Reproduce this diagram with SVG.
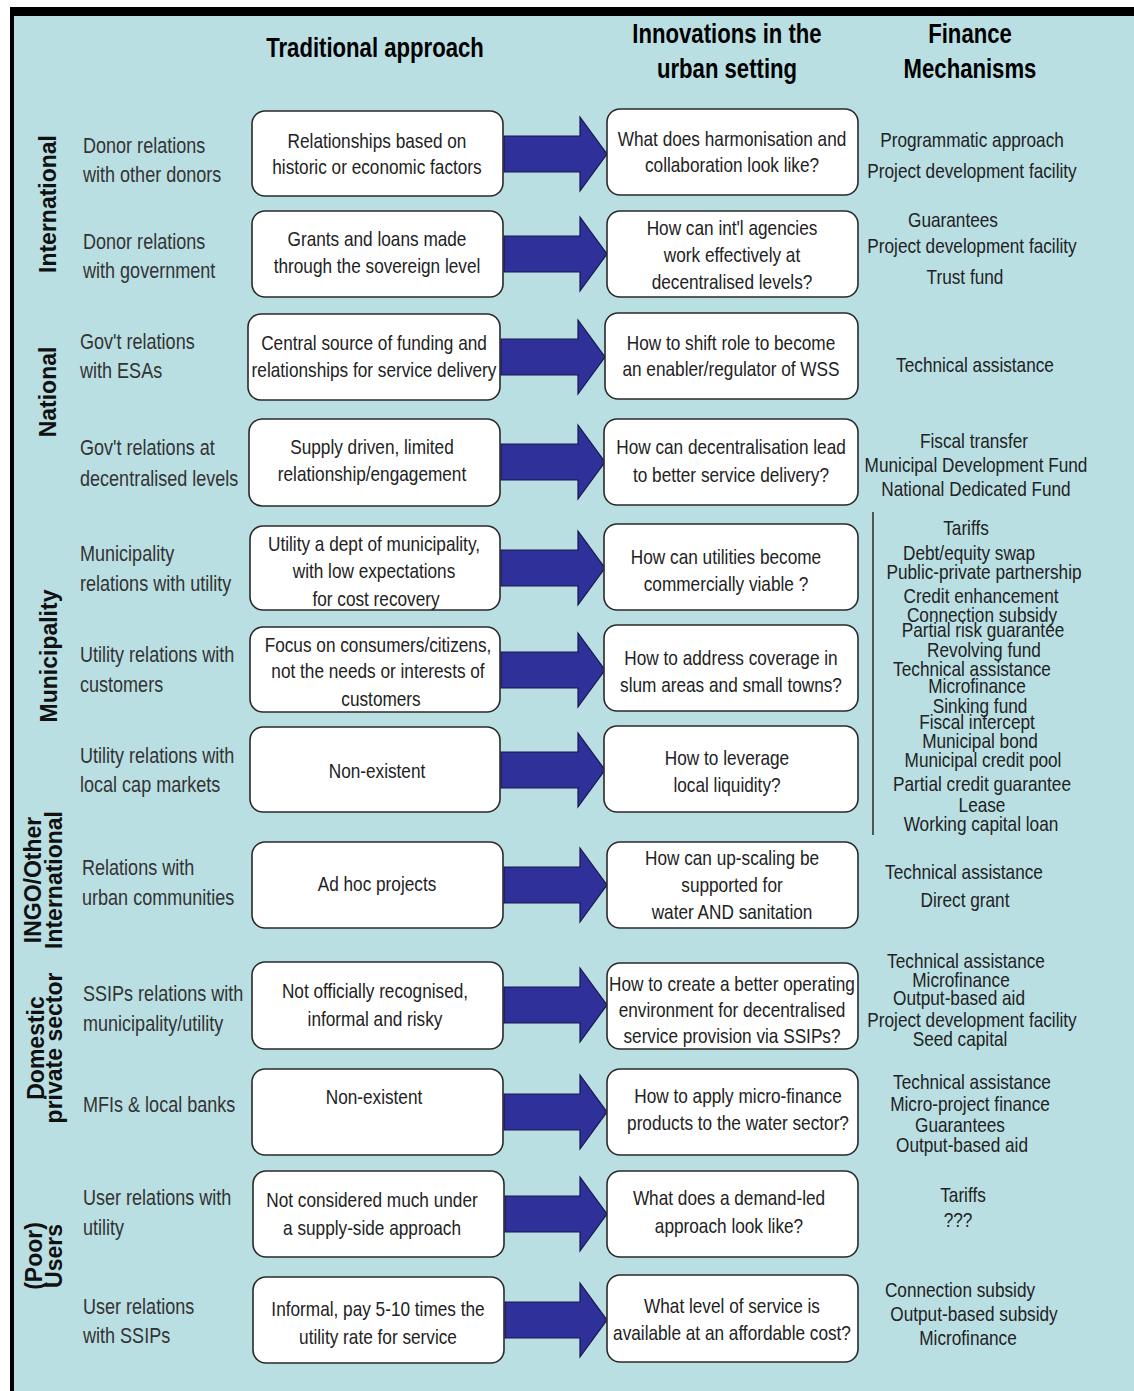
<svg xmlns="http://www.w3.org/2000/svg" width="1134" height="1391" viewBox="0 0 1134 1391">
<defs>
<style>
.bg{fill:#badfe3}
.box{fill:#ffffff;stroke:#2a2a2a;stroke-width:1.6}
.arr{fill:#30309a;stroke:#16164c;stroke-width:1.2}
.t{font-family:"Liberation Sans",Arial,sans-serif;font-size:21px;fill:#222;text-anchor:middle}
.lbl{font-family:"Liberation Sans",Arial,sans-serif;font-size:22px;fill:#333;text-anchor:start}
.hdr{font-family:"Liberation Sans",Arial,sans-serif;font-weight:bold;font-size:27px;fill:#000;text-anchor:middle}
.cat{font-family:"Liberation Sans",Arial,sans-serif;font-weight:bold;font-size:23px;fill:#111;text-anchor:middle}
</style>
</defs>
<rect x="0" y="0" width="1134" height="1391" fill="#ffffff"/>
<rect class="bg" x="10" y="7" width="1124" height="1384"/>
<rect x="10" y="7" width="1124" height="9" fill="#000"/>
<rect x="10" y="7" width="4" height="1384" fill="#000"/>

<g id="headers">
<text class="hdr" transform="translate(375,57) scale(.82,1)">Traditional approach</text>
<text class="hdr" transform="translate(727,43) scale(.82,1)">Innovations in the</text>
<text class="hdr" transform="translate(727,78) scale(.82,1)">urban setting</text>
<text class="hdr" transform="translate(970,43) scale(.82,1)">Finance</text>
<text class="hdr" transform="translate(970,78) scale(.82,1)">Mechanisms</text>
</g>

<g id="categories">
<text class="cat" transform="translate(56,204) rotate(-90)">International</text>
<text class="cat" transform="translate(56,392) rotate(-90)">National</text>
<text class="cat" transform="translate(57,656) rotate(-90)">Municipality</text>
<text class="cat" transform="translate(41,880) rotate(-90)">INGO/Other</text>
<text class="cat" transform="translate(62,880) rotate(-90)">International</text>
<text class="cat" transform="translate(44,1048) rotate(-90)">Domestic</text>
<text class="cat" transform="translate(62,1048) rotate(-90)">private sector</text>
<text class="cat" transform="translate(42,1256) rotate(-90)">(Poor)</text>
<text class="cat" transform="translate(62,1256) rotate(-90)">Users</text>
</g>

<g id="connectors">
<path class="arr" d="M504,136 H580 V117 L607,154 L580,191 V172 H504 Z"/>
<path class="arr" d="M504,236 H580 V217 L607,254 L580,291 V272 H504 Z"/>
<path class="arr" d="M501,339 H578 V320 L605,357 L578,394 V375 H501 Z"/>
<path class="arr" d="M501,444 H578 V425 L605,462 L578,499 V480 H501 Z"/>
<path class="arr" d="M501,550 H578 V531 L605,568 L578,605 V586 H501 Z"/>
<path class="arr" d="M501,652 H578 V633 L605,670 L578,707 V688 H501 Z"/>
<path class="arr" d="M501,752 H578 V733 L605,770 L578,807 V788 H501 Z"/>
<path class="arr" d="M504,867 H580 V848 L607,885 L580,922 V903 H504 Z"/>
<path class="arr" d="M504,987 H580 V968 L607,1005 L580,1042 V1023 H504 Z"/>
<path class="arr" d="M504,1094 H580 V1075 L607,1112 L580,1149 V1130 H504 Z"/>
<path class="arr" d="M505,1196 H580 V1177 L607,1214 L580,1251 V1232 H505 Z"/>
<path class="arr" d="M505,1302 H580 V1283 L607,1320 L580,1357 V1338 H505 Z"/>
<line x1="873" y1="512" x2="873" y2="835" stroke="#333" stroke-width="1.6"/>
</g>

<g id="row1">
<text class="lbl" transform="translate(83,153) scale(.82,1)">Donor relations</text>
<text class="lbl" transform="translate(83,182) scale(.82,1)">with other donors</text>
<rect class="box" x="252" y="111" width="251" height="85" rx="13"/>
<text class="t" transform="translate(377,148) scale(.82,1)">Relationships based on</text>
<text class="t" transform="translate(377,174) scale(.82,1)">historic or economic factors</text>
<rect class="box" x="607" y="109" width="251" height="86" rx="13"/>
<text class="t" transform="translate(732,146) scale(.82,1)">What does harmonisation and</text>
<text class="t" transform="translate(732,172) scale(.82,1)">collaboration look like?</text>
<text class="t" transform="translate(972,147) scale(.82,1)">Programmatic approach</text>
<text class="t" transform="translate(972,178) scale(.82,1)">Project development facility</text>
</g>

<g id="row2">
<text class="lbl" transform="translate(83,249) scale(.82,1)">Donor relations</text>
<text class="lbl" transform="translate(83,278) scale(.82,1)">with government</text>
<rect class="box" x="252" y="211" width="251" height="86" rx="13"/>
<text class="t" transform="translate(377,246) scale(.82,1)">Grants and loans made</text>
<text class="t" transform="translate(377,273) scale(.82,1)">through the sovereign level</text>
<rect class="box" x="607" y="211" width="251" height="86" rx="13"/>
<text class="t" transform="translate(732,235) scale(.82,1)">How can int'l agencies</text>
<text class="t" transform="translate(732,262) scale(.82,1)">work effectively at</text>
<text class="t" transform="translate(732,289) scale(.82,1)">decentralised levels?</text>
<text class="t" transform="translate(953,227) scale(.82,1)">Guarantees</text>
<text class="t" transform="translate(972,253) scale(.82,1)">Project development facility</text>
<text class="t" transform="translate(965,284) scale(.82,1)">Trust fund</text>
</g>

<g id="row3">
<text class="lbl" transform="translate(80,349) scale(.82,1)">Gov't relations</text>
<text class="lbl" transform="translate(80,378) scale(.82,1)">with ESAs</text>
<rect class="box" x="248" y="314" width="252" height="86" rx="13"/>
<text class="t" transform="translate(374,350) scale(.82,1)">Central source of funding and</text>
<text class="t" transform="translate(374,377) scale(.82,1)">relationships for service delivery</text>
<rect class="box" x="605" y="313" width="253" height="86" rx="13"/>
<text class="t" transform="translate(731,350) scale(.82,1)">How to shift role to become</text>
<text class="t" transform="translate(731,376) scale(.82,1)">an enabler/regulator of WSS</text>
<text class="t" transform="translate(975,372) scale(.82,1)">Technical assistance</text>
</g>

<g id="row4">
<text class="lbl" transform="translate(80,455) scale(.82,1)">Gov't relations at</text>
<text class="lbl" transform="translate(80,486) scale(.82,1)">decentralised levels</text>
<rect class="box" x="249" y="419" width="251" height="87" rx="13"/>
<text class="t" transform="translate(372,454) scale(.82,1)">Supply driven, limited</text>
<text class="t" transform="translate(372,481) scale(.82,1)">relationship/engagement</text>
<rect class="box" x="604" y="419" width="254" height="86" rx="13"/>
<text class="t" transform="translate(731,454) scale(.82,1)">How can decentralisation lead</text>
<text class="t" transform="translate(731,482) scale(.82,1)">to better service delivery?</text>
<text class="t" transform="translate(974,448) scale(.82,1)">Fiscal transfer</text>
<text class="t" transform="translate(976,472) scale(.82,1)">Municipal Development Fund</text>
<text class="t" transform="translate(976,496) scale(.82,1)">National Dedicated Fund</text>
</g>

<g id="row5">
<text class="lbl" transform="translate(80,561) scale(.82,1)">Municipality</text>
<text class="lbl" transform="translate(80,591) scale(.82,1)">relations with utility</text>
<rect class="box" x="250" y="526" width="250" height="84" rx="13"/>
<text class="t" transform="translate(374,551) scale(.82,1)">Utility a dept of municipality,</text>
<text class="t" transform="translate(374,578) scale(.82,1)">with low expectations</text>
<text class="t" transform="translate(376,606) scale(.82,1)">for cost recovery</text>
<rect class="box" x="604" y="524" width="254" height="86" rx="13"/>
<text class="t" transform="translate(726,564) scale(.82,1)">How can utilities become</text>
<text class="t" transform="translate(726,591) scale(.82,1)">commercially viable ?</text>
</g>

<g id="row6">
<text class="lbl" transform="translate(80,662) scale(.82,1)">Utility relations with</text>
<text class="lbl" transform="translate(80,692) scale(.82,1)">customers</text>
<rect class="box" x="250" y="627" width="250" height="85" rx="13"/>
<text class="t" transform="translate(378,652) scale(.82,1)">Focus on consumers/citizens,</text>
<text class="t" transform="translate(378,678) scale(.82,1)">not the needs or interests of</text>
<text class="t" transform="translate(381,706) scale(.82,1)">customers</text>
<rect class="box" x="604" y="625" width="254" height="86" rx="13"/>
<text class="t" transform="translate(731,665) scale(.82,1)">How to address coverage in</text>
<text class="t" transform="translate(731,692) scale(.82,1)">slum areas and small towns?</text>
</g>

<g id="row7">
<text class="lbl" transform="translate(80,763) scale(.82,1)">Utility relations with</text>
<text class="lbl" transform="translate(80,792) scale(.82,1)">local cap markets</text>
<rect class="box" x="250" y="727" width="250" height="85" rx="13"/>
<text class="t" transform="translate(377,778) scale(.82,1)">Non-existent</text>
<rect class="box" x="604" y="726" width="254" height="86" rx="13"/>
<text class="t" transform="translate(727,765) scale(.82,1)">How to leverage</text>
<text class="t" transform="translate(727,792) scale(.82,1)">local liquidity?</text>
</g>

<g id="municipality-finance">
<text class="t" transform="translate(966,535) scale(.82,1)">Tariffs</text>
<text class="t" transform="translate(969,560) scale(.82,1)">Debt/equity swap</text>
<text class="t" transform="translate(984,579) scale(.82,1)">Public-private partnership</text>
<text class="t" transform="translate(981,603) scale(.82,1)">Credit enhancement</text>
<text class="t" transform="translate(982,622) scale(.82,1)">Connection subsidy</text>
<text class="t" transform="translate(983,637) scale(.82,1)">Partial risk guarantee</text>
<text class="t" transform="translate(984,657) scale(.82,1)">Revolving fund</text>
<text class="t" transform="translate(972,676) scale(.82,1)">Technical assistance</text>
<text class="t" transform="translate(977,693) scale(.82,1)">Microfinance</text>
<text class="t" transform="translate(980,713) scale(.82,1)">Sinking fund</text>
<text class="t" transform="translate(977,729) scale(.82,1)">Fiscal intercept</text>
<text class="t" transform="translate(980,748) scale(.82,1)">Municipal bond</text>
<text class="t" transform="translate(983,767) scale(.82,1)">Municipal credit pool</text>
<text class="t" transform="translate(982,791) scale(.82,1)">Partial credit guarantee</text>
<text class="t" transform="translate(982,812) scale(.82,1)">Lease</text>
<text class="t" transform="translate(981,831) scale(.82,1)">Working capital loan</text>
</g>

<g id="row8">
<text class="lbl" transform="translate(82,875) scale(.82,1)">Relations with</text>
<text class="lbl" transform="translate(82,905) scale(.82,1)">urban communities</text>
<rect class="box" x="252" y="842" width="251" height="86" rx="13"/>
<text class="t" transform="translate(377,891) scale(.82,1)">Ad hoc projects</text>
<rect class="box" x="607" y="842" width="251" height="86" rx="13"/>
<text class="t" transform="translate(732,865) scale(.82,1)">How can up-scaling be</text>
<text class="t" transform="translate(732,892) scale(.82,1)">supported for</text>
<text class="t" transform="translate(732,919) scale(.82,1)">water AND sanitation</text>
<text class="t" transform="translate(964,879) scale(.82,1)">Technical assistance</text>
<text class="t" transform="translate(965,907) scale(.82,1)">Direct grant</text>
</g>

<g id="row9">
<text class="lbl" transform="translate(83,1001) scale(.82,1)">SSIPs relations with</text>
<text class="lbl" transform="translate(83,1031) scale(.82,1)">municipality/utility</text>
<rect class="box" x="252" y="962" width="251" height="87" rx="13"/>
<text class="t" transform="translate(375,998) scale(.82,1)">Not officially recognised,</text>
<text class="t" transform="translate(375,1026) scale(.82,1)">informal and risky</text>
<rect class="box" x="607" y="963" width="251" height="86" rx="13"/>
<text class="t" transform="translate(732,991) scale(.82,1)">How to create a better operating</text>
<text class="t" transform="translate(732,1017) scale(.82,1)">environment for decentralised</text>
<text class="t" transform="translate(732,1043) scale(.82,1)">service provision via SSIPs?</text>
<text class="t" transform="translate(966,968) scale(.82,1)">Technical assistance</text>
<text class="t" transform="translate(961,987) scale(.82,1)">Microfinance</text>
<text class="t" transform="translate(959,1005) scale(.82,1)">Output-based aid</text>
<text class="t" transform="translate(972,1027) scale(.82,1)">Project development facility</text>
<text class="t" transform="translate(960,1046) scale(.82,1)">Seed capital</text>
</g>

<g id="row10">
<text class="lbl" transform="translate(83,1112) scale(.82,1)">MFIs &amp; local banks</text>
<rect class="box" x="252" y="1069" width="251" height="86" rx="13"/>
<text class="t" transform="translate(374,1104) scale(.82,1)">Non-existent</text>
<rect class="box" x="607" y="1069" width="251" height="86" rx="13"/>
<text class="t" transform="translate(738,1103) scale(.82,1)">How to apply micro-finance</text>
<text class="t" transform="translate(738,1130) scale(.82,1)">products to the water sector?</text>
<text class="t" transform="translate(972,1089) scale(.82,1)">Technical assistance</text>
<text class="t" transform="translate(970,1111) scale(.82,1)">Micro-project finance</text>
<text class="t" transform="translate(960,1132) scale(.82,1)">Guarantees</text>
<text class="t" transform="translate(962,1152) scale(.82,1)">Output-based aid</text>
</g>

<g id="row11">
<text class="lbl" transform="translate(83,1205) scale(.82,1)">User relations with</text>
<text class="lbl" transform="translate(83,1235) scale(.82,1)">utility</text>
<rect class="box" x="253" y="1171" width="251" height="86" rx="13"/>
<text class="t" transform="translate(372,1207) scale(.82,1)">Not considered much under</text>
<text class="t" transform="translate(372,1235) scale(.82,1)">a supply-side approach</text>
<rect class="box" x="607" y="1171" width="251" height="86" rx="13"/>
<text class="t" transform="translate(729,1205) scale(.82,1)">What does a demand-led</text>
<text class="t" transform="translate(729,1233) scale(.82,1)">approach look like?</text>
<text class="t" transform="translate(963,1202) scale(.82,1)">Tariffs</text>
<text class="t" transform="translate(958,1227) scale(.82,1)">???</text>
</g>

<g id="row12">
<text class="lbl" transform="translate(83,1314) scale(.82,1)">User relations</text>
<text class="lbl" transform="translate(83,1343) scale(.82,1)">with SSIPs</text>
<rect class="box" x="253" y="1277" width="251" height="86" rx="13"/>
<text class="t" transform="translate(378,1316) scale(.82,1)">Informal, pay 5-10 times the</text>
<text class="t" transform="translate(378,1344) scale(.82,1)">utility rate for service</text>
<rect class="box" x="607" y="1275" width="251" height="87" rx="13"/>
<text class="t" transform="translate(732,1313) scale(.82,1)">What level of service is</text>
<text class="t" transform="translate(732,1340) scale(.82,1)">available at an affordable cost?</text>
<text class="t" transform="translate(960,1297) scale(.82,1)">Connection subsidy</text>
<text class="t" transform="translate(974,1321) scale(.82,1)">Output-based subsidy</text>
<text class="t" transform="translate(968,1345) scale(.82,1)">Microfinance</text>
</g>
</svg>
